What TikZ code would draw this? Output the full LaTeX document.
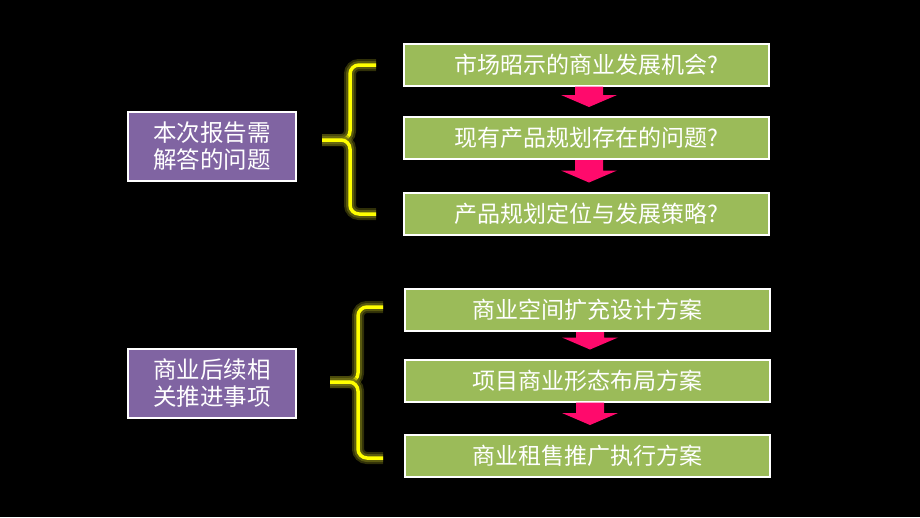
\documentclass[tikz,border=0pt]{standalone}
\usepackage{fontspec}
\setmainfont{Noto Sans CJK SC}
\usetikzlibrary{calc}

\definecolor{boxgreen}{HTML}{9BBB59}
\definecolor{boxpurple}{HTML}{8064A2}
\definecolor{arrowpink}{HTML}{FF0A6C}
\definecolor{braceyellow}{HTML}{FFFF00}
\definecolor{braceglow}{HTML}{6B6B12}

\tikzset{
  stepgreen/.style={draw=white, line width=2pt, fill=boxgreen, text=white,
    minimum width=365pt, minimum height=42pt, inner sep=0pt,
    font=\fontsize{23}{27}\selectfont},
  topicbox/.style={draw=white, line width=2pt, fill=boxpurple, text=white,
    minimum width=168pt, minimum height=69pt, inner sep=0pt, align=center,
    font=\fontsize{23.5}{27}\selectfont},
  bracket/.style={draw=braceyellow, line width=3.5pt, rounded corners=9pt,
    preaction={draw=braceglow, line width=12pt, opacity=0.45},
    preaction={draw=braceglow, line width=8pt, opacity=0.7}},
}

% block arrow from the bottom of #1 down towards #2
\newcommand\pinkarrow[2]{%
  \fill[arrowpink] ($(#1.south)+(-11,0)$) -- ($(#1.south)+(17,0)$)
    -- ($(#2.north)+(17,-21)$) -- ($(#2.north)+(31,-21)$)
    -- ($(#2.north)+(3,-9)$)
    -- ($(#2.north)+(-25,-21)$) -- ($(#2.north)+(-11,-21)$) -- cycle;}

\begin{document}
\begin{tikzpicture}[x=1pt,y=-1pt]
\fill[black] (0,0) rectangle (920,517);
\useasboundingbox (0,0) rectangle (920,517);

% questions
\node[topicbox] (topic1) at (212,146.5) {本次报告需\\解答的问题};
\node[stepgreen] (q1) at (586,64.5) {市场昭示的商业发展机会?};
\node[stepgreen] (q2) at (586,138) {现有产品规划存在的问题?};
\node[stepgreen] (q3) at (586,213.5) {产品规划定位与发展策略?};
\pinkarrow{q1}{q2}
\pinkarrow{q2}{q3}
\draw[bracket] (376,65) -- (350,65) -- (350,140) -- (322,140);
\draw[bracket] (322,140) -- (350,140) -- (350,214) -- (376,214);

% follow-up items
\node[topicbox] (topic2) at (212,383.5) {商业后续相\\关推进事项};
\node[stepgreen] (p1) at (587,310) {商业空间扩充设计方案};
\node[stepgreen] (p2) at (587,380.5) {项目商业形态布局方案};
\node[stepgreen] (p3) at (587,456) {商业租售推广执行方案};
\pinkarrow{p1}{p2}
\pinkarrow{p2}{p3}
\draw[bracket] (383,307) -- (358,307) -- (358,382) -- (330,382);
\draw[bracket] (330,382) -- (358,382) -- (358,458) -- (383,458);

\end{tikzpicture}
\end{document}
